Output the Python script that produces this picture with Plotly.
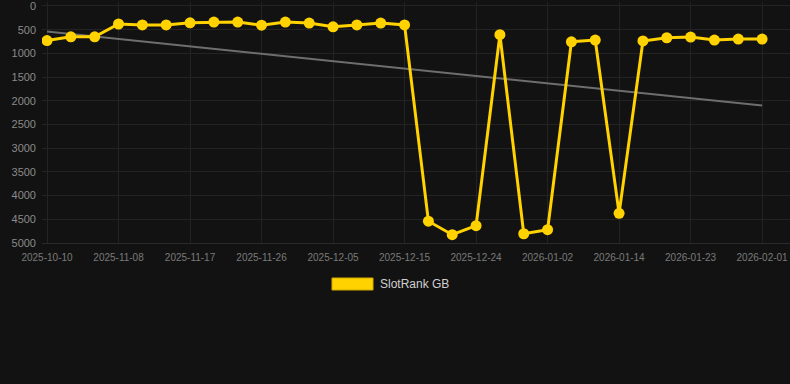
import plotly.graph_objects as go

dates = [
    "2025-10-10", "2025-10-20", "2025-10-30",
    "2025-11-08", "2025-11-11", "2025-11-14",
    "2025-11-17", "2025-11-20", "2025-11-23",
    "2025-11-26", "2025-11-29", "2025-12-02",
    "2025-12-05", "2025-12-08", "2025-12-11",
    "2025-12-15", "2025-12-18", "2025-12-21",
    "2025-12-24", "2025-12-27", "2025-12-30",
    "2026-01-02", "2026-01-06", "2026-01-10",
    "2026-01-14", "2026-01-17", "2026-01-20",
    "2026-01-23", "2026-01-26", "2026-01-29",
    "2026-02-01",
]
rank = [
    730, 650, 650, 380, 400, 400, 355, 340, 340, 405,
    340, 360, 440, 400, 360, 400, 4540, 4825, 4635, 605,
    4805, 4720, 755, 720, 4375, 738, 670, 655, 718, 698,
    698,
]
tick_labels = dates[::3]
y_ticks = [0, 500, 1000, 1500, 2000, 2500, 3000, 3500, 4000, 4500, 5000]
trend_x = [dates[0], dates[-1]]
trend_y = [540, 2100]

series_name = "SlotRank GB"
gold = "#FFD200"

fig = go.Figure()
fig.add_trace(go.Scatter(
    x=trend_x, y=trend_y, mode="lines",
    line=dict(color="#6e6e6e", width=2),
    showlegend=False, hoverinfo="skip",
))
fig.add_trace(go.Scatter(
    x=dates, y=rank, mode="lines+markers", name=series_name,
    line=dict(color=gold, width=3),
    marker=dict(color=gold, size=11),
    showlegend=False,
))

TOP = 2
BOTTOM_PX = 243
H = BOTTOM_PX - TOP

fig.update_layout(
    width=790, height=384,
    margin=dict(l=42, r=0, t=TOP, b=384 - BOTTOM_PX, pad=0),
    paper_bgcolor="#121212", plot_bgcolor="#121212",
    font=dict(family="Liberation Sans, Arial, sans-serif", color="#888888"),
    xaxis=dict(
        type="category", categoryorder="array", categoryarray=dates,
        range=[-0.21, 31.17],
        tickmode="array", tickvals=tick_labels, ticktext=tick_labels,
        tickfont=dict(size=10, color="#7a7a7a"),
        showgrid=True, gridcolor="#232323", gridwidth=1,
        zeroline=False, showline=True, linecolor="#2a2a2a",
        ticks="outside", ticklen=5, tickcolor="rgba(0,0,0,0)",
    ),
    yaxis=dict(
        range=[5000, -84],
        tickmode="array", tickvals=y_ticks,
        tickfont=dict(size=11, color="#8a8a8a"),
        showgrid=True, gridcolor="#232323", gridwidth=1,
        zeroline=False, ticks="", ticklabelstandoff=5,
        ticklabeloverflow="allow",
    ),
    shapes=[dict(
        type="rect", xref="paper", yref="paper",
        x0=(332 - 42) / 748, x1=(373 - 42) / 748,
        y0=(BOTTOM_PX - 290) / H, y1=(BOTTOM_PX - 278) / H,
        fillcolor=gold, line=dict(color="#d4a900", width=1),
    )],
    annotations=[dict(
        text=series_name, xref="paper", yref="paper",
        x=(378 - 42) / 748, y=(BOTTOM_PX - 284) / H,
        xanchor="left", yanchor="middle", showarrow=False,
        font=dict(size=12, color="#d0d0d0"),
    )],
)

fig.write_html(
    "out.html",
    config={"displayModeBar": False},
    post_script="document.body.style.margin='0';document.body.style.background='#121212';",
)
